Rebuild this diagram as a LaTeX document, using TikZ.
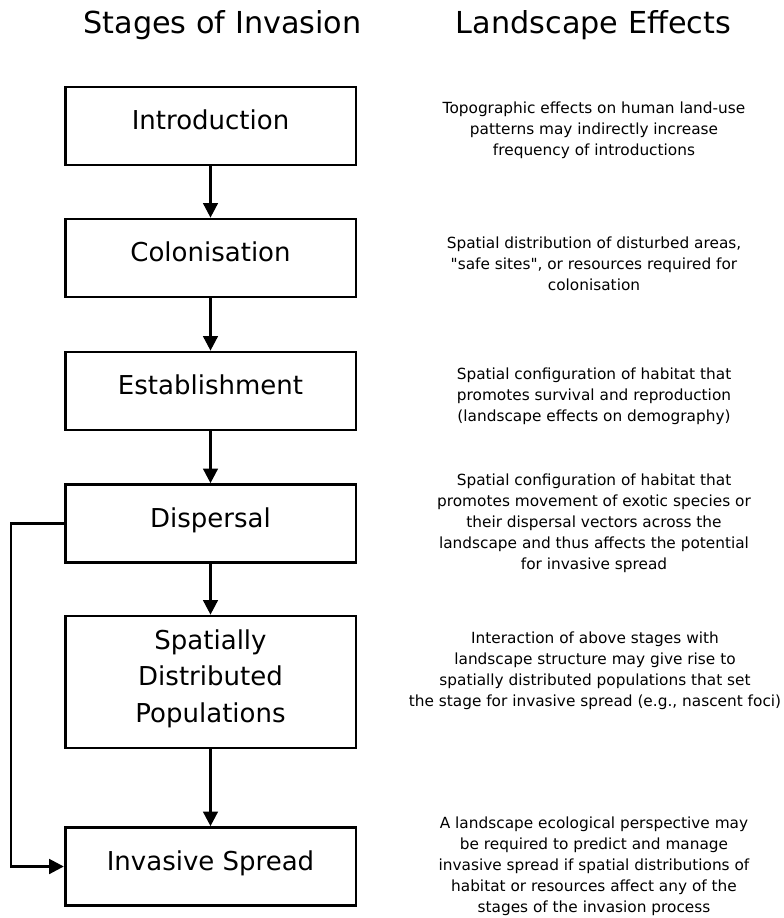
\documentclass[tikz,border=0pt]{standalone}
\usepackage{fontspec}
\setmainfont{DejaVu Sans}[Ligatures=TeXOff]
\usetikzlibrary{arrows.meta}
\begin{document}
\begin{tikzpicture}[x=0.75pt,y=-0.75pt,
  stagebox/.style={draw,line width=2pt,minimum width=218pt,minimum height=58.5pt,inner sep=0pt,align=center,
     font=\fontsize{19.5}{27.5}\selectfont,text height=0.76em,text depth=0.2em},
  boxtext/.style={inner sep=0pt,align=center,font=\fontsize{19.5}{27.5}\selectfont},
  effect/.style={align=center,inner sep=0pt,font=\fontsize{11.5}{15.75}\selectfont},
  heading/.style={inner sep=0pt,anchor=base,font=\fontsize{22.7}{27}\selectfont},
  flow/.style={line width=2pt,-{Triangle[length=11pt,width=11pt]}}]
\useasboundingbox (0,0) rectangle (784,918);
\node[heading] (h1) at (222.5,33) {Stages of Invasion};
\node[heading] (h2) at (593.5,33) {Landscape Effects};

\node[stagebox] (intro) at (210.5,126) {Introduction};
\node[stagebox] (colon) at (210.5,258) {Colonisation};
\node[stagebox] (estab) at (210.5,391) {Establishment};
\node[stagebox] (disp) at (210.5,523.5) {Dispersal};
\node[stagebox,minimum height=99pt,text height=,text depth=] (sdp) at (210.5,682) {};
\node[boxtext] (sdptext) at (210.5,678.5) {Spatially\\Distributed\\Populations};
\node[stagebox] (inv) at (210.5,866.5) {Invasive Spread};

\draw[flow] (intro) -- (colon);
\draw[flow] (colon) -- (estab);
\draw[flow] (estab) -- (disp);
\draw[flow] (disp) -- (sdp);
\draw[flow] (sdp) -- (inv);
\draw[flow] (disp.west) -- ++(-53,0) |- (inv.west);

\node[effect] (e1) at (594,130) {Topographic effects on human land-use\\patterns may indirectly increase\\frequency of introductions};
\node[effect] (e2) at (594,264) {Spatial distribution of disturbed areas,\\"safe sites", or resources required for\\colonisation};
\node[effect] (e3) at (594,396) {Spatial configuration of habitat that\\promotes survival and reproduction\\(landscape effects on demography)};
\node[effect] (e4) at (594,523) {Spatial configuration of habitat that\\promotes movement of exotic species or\\their dispersal vectors across the\\landscape and thus affects the potential\\for invasive spread};
\node[effect] (e5) at (595,671) {Interaction of above stages with\\landscape structure may give rise to\\spatially distributed populations that set\\the stage for invasive spread (e.g., nascent foci)};
\node[effect] (e6) at (594,866.5) {A landscape ecological perspective may\\be required to predict and manage\\invasive spread if spatial distributions of\\habitat or resources affect any of the\\stages of the invasion process};
\end{tikzpicture}
\end{document}
